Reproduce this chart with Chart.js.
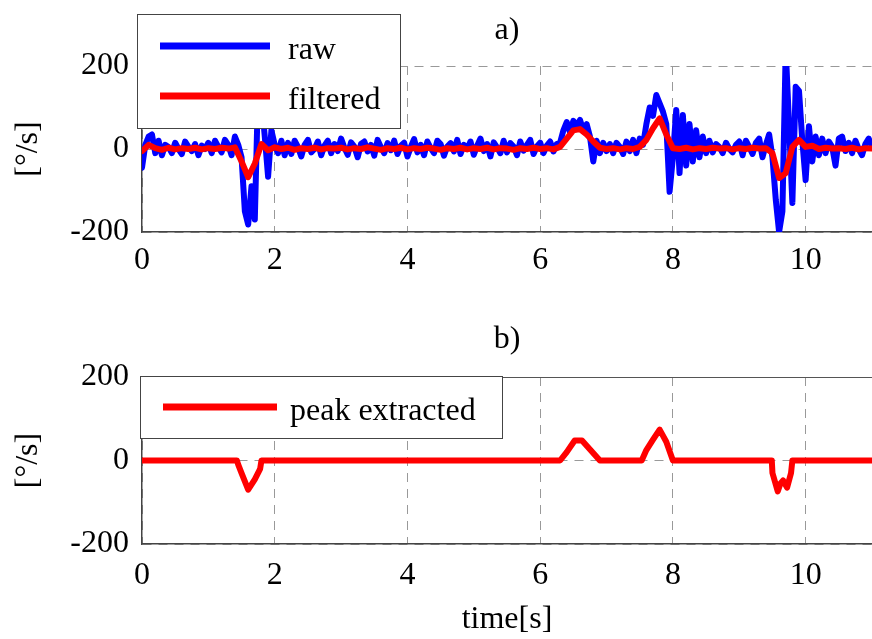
<!DOCTYPE html>
<html>
<head>
<meta charset="utf-8">
<title>Angular rate: raw, filtered and peak extracted</title>
<script src="https://cdn.jsdelivr.net/npm/chart.js@4.4.1/dist/chart.umd.min.js"></script>
<style>
  html, body { margin: 0; padding: 0; background: #fff; }
  canvas { display: block; }
</style>
</head>
<body>
<canvas id="rawChart" width="872" height="300"></canvas>
<canvas id="peakChart" width="872" height="339"></canvas>
<script>
// raw gyro trace, sampled every 0.05 s (one row = one second)
const rawStep = 0.05;
const rawValues = [
  -45, 10, 30, 35, -10, 20, -15, 10, 5, -10, 15, 0, -12, 18, 5, -5, 12, -15, 8, 0,
  15, -10, 20, 5, -8, 22, 10, -15, 30, 10, -20, -150, -182, -90, -170, 150, 120, 30, -67, 45,
  10, -10, 20, -15, 15, -12, 20, 5, -18, 10, 22, -8, 0, 18, -15, 8, 20, -10, 12, -5,
  25, 3, -14, 16, 6, -20, 12, 18, -6, 10, -16, 22, 4, -10, 14, -3, 20, -12, 8, 15,
  -18, 5, 24, -8, 10, -15, 18, 2, -10, 20, 12, -16, 6, 14, -6, 22, -12, 10, 0, 18,
  -14, 8, 25, -5, 12, -18, 16, 4, -10, 20, -8, 14, 6, -15, 18, -4, 10, 22, -12, 6,
  15, -10, 8, 18, -6, 12, 15, 45, 65, 40, 68, 55, 70, 45, 60, 30, -30, 20, -10, 15,
  -5, 12, -10, 15, 5, -12, 18, -5, 22, -10, 25, 10, 60, 100, 80, 130, 110, 90, 60, -103,
  -20, 94, -58, 82, -40, 60, -30, 45, -20, 30, -10, 20, -8, 12, 5, -10, 15, 0, -8, 10,
  18, -15, 20, 5, -12, 15, 25, -20, 10, 35, -20, -122, -200, -150, 240, 60, -130, 150, 140, 20,
  -75, 55, -30, 30, -15, 25, -10, 18, 5, -40, 25, 30, -5, 15, -10, 20, 0, -15, 12, 25,
  5
];

// filtered trace, sampled every 0.1 s
const filteredStep = 0.1;
const filteredValues = [
  -5, 10, 2, -2, 3, -1, 2, 0, 3, -1,
  2, 0, 3, 1, 4, -30, -68, -35, 12, -3,
  4, 0, 3, -2, 2, 0, 3, -1, 2, 1,
  3, -1, 2, 0, 4, 1, -2, 2, 0, 3,
  -1, 2, 0, 3, 1, -2, 2, 0, 3, -1,
  2, 0, 3, -1, 2, 1, -2, 2, 0, 3,
  0, 2, -1, 5, 25, 45, 48, 35, 18, 3,
  0, 2, -1, 2, 0, 5, 22, 50, 74, 35,
  2, 0, 3, -1, 2, 0, 3, 1, 2, -1,
  2, 0, 3, 1, 2, -10, -70, -58, 5, 22,
  5, 8, 0, 3, 1, 2, 0, 3, -1, 2,
  1
];

// peak extracted signal (zero outside the detected peaks)
const peakTimes = [0, 1.43, 1.45, 1.5, 1.6, 1.7, 1.78, 1.8, 6.3, 6.4, 6.52, 6.63, 6.9,
  7.53, 7.6, 7.7, 7.8, 7.9, 8.0, 9.49, 9.5, 9.58, 9.62, 9.66, 9.72, 9.78, 9.8, 11];
const peakValues = [0, 0, -10, -30, -70, -45, -20, 0, 0, 20, 48, 48, 0,
  0, 25, 50, 74, 45, 0, 0, -30, -74, -55, -48, -65, -30, 0, 0];

const xTicks = [0, 2, 4, 6, 8, 10];
const yTicks = [-200, 0, 200];

const serif = '"Liberation Serif", "Times New Roman", serif';

function toPoints(values, step) {
  return values.map((v, i) => ({ x: +(i * step).toFixed(2), y: v }));
}

// panel letter, legend box and optional top frame line
const decor = {
  id: 'decor',
  afterDraw(chart, args, opts) {
    const ctx = chart.ctx;
    const area = chart.chartArea;
    ctx.save();
    if (opts.topBorder) {
      ctx.strokeStyle = '#555';
      ctx.lineWidth = 1;
      ctx.beginPath();
      ctx.moveTo(area.left, area.top + 0.5);
      ctx.lineTo(area.right, area.top + 0.5);
      ctx.stroke();
    }
    ctx.fillStyle = '#000';
    ctx.font = '32px ' + serif;
    ctx.textAlign = 'center';
    ctx.textBaseline = 'middle';
    ctx.fillText(opts.title, (area.left + area.right) / 2, opts.titleY);

    const b = opts.legend;
    ctx.fillStyle = '#fff';
    ctx.fillRect(b.x, b.y, b.w, b.h);
    ctx.strokeStyle = '#444';
    ctx.lineWidth = 1;
    ctx.strokeRect(b.x + 0.5, b.y + 0.5, b.w, b.h);
    ctx.textAlign = 'left';
    chart.data.datasets.forEach((ds, i) => {
      const y = b.rowY + i * b.rowGap;
      ctx.strokeStyle = ds.borderColor;
      ctx.lineWidth = 7;
      ctx.beginPath();
      ctx.moveTo(b.lineX1, y);
      ctx.lineTo(b.lineX2, y);
      ctx.stroke();
      ctx.fillStyle = '#000';
      ctx.fillText(ds.label, b.textX, y + 5);
    });
    ctx.restore();
  }
};

function makeScales(xAxisHeight, xTickPad, showXTitle) {
  const font = { family: serif, size: 32 };
  const grid = { color: '#999', lineWidth: 1, drawTicks: false };
  const border = { color: '#444', width: 1.5, dash: [9, 7] };
  return {
    x: {
      type: 'linear', min: 0, max: 11,
      afterBuildTicks: s => { s.ticks = xTicks.map(v => ({ value: v })); },
      afterFit: s => { s.height = xAxisHeight; },
      grid, border,
      ticks: { color: '#000', font, padding: xTickPad, maxRotation: 0, autoSkip: false },
      title: { display: showXTitle, text: 'time[s]', color: '#000', font, padding: { top: 0, bottom: 0 } }
    },
    y: {
      min: -200, max: 200,
      afterBuildTicks: s => { s.ticks = yTicks.map(v => ({ value: v })); },
      afterFit: s => { s.width = 142; },
      grid, border,
      ticks: { color: '#000', font, padding: 13 },
      title: { display: true, text: '[°/s]', color: '#000', font, padding: { top: 9, bottom: 0 } }
    }
  };
}

const lineStyle = { pointRadius: 0, tension: 0, borderJoinStyle: 'round', borderCapStyle: 'round', fill: false };

// a) raw and filtered angular rate
new Chart(document.getElementById('rawChart'), {
  type: 'line',
  data: {
    datasets: [
      { label: 'raw', data: toPoints(rawValues, rawStep), borderColor: '#0000ff', borderWidth: 6, order: 2, ...lineStyle },
      { label: 'filtered', data: toPoints(filteredValues, filteredStep), borderColor: '#ff0000', borderWidth: 6, order: 1, ...lineStyle }
    ]
  },
  options: {
    responsive: false,
    animation: false,
    layout: { padding: { top: 66, left: 0, right: 0, bottom: 0 } },
    plugins: {
      legend: { display: false },
      tooltip: { enabled: false },
      decor: {
        title: 'a)', titleY: 31, topBorder: false,
        legend: { x: 137, y: 14, w: 263, h: 114, rowY: 46, rowGap: 50, lineX1: 160, lineX2: 270, textX: 288 }
      }
    },
    scales: makeScales(68, 9, false)
  },
  plugins: [decor]
});

// b) peak extracted
new Chart(document.getElementById('peakChart'), {
  type: 'line',
  data: {
    datasets: [
      { label: 'peak extracted', data: peakTimes.map((t, i) => ({ x: t, y: peakValues[i] })), borderColor: '#ff0000', borderWidth: 6, ...lineStyle }
    ]
  },
  options: {
    responsive: false,
    animation: false,
    layout: { padding: { top: 77, left: 0, right: 0, bottom: 0 } },
    plugins: {
      legend: { display: false },
      tooltip: { enabled: false },
      decor: {
        title: 'b)', titleY: 40, topBorder: true,
        legend: { x: 140, y: 76, w: 362, h: 62, rowY: 107, rowGap: 0, lineX1: 163, lineX2: 277, textX: 290 }
      }
    },
    scales: makeScales(95, 12, true)
  },
  plugins: [decor]
});
</script>
</body>
</html>
